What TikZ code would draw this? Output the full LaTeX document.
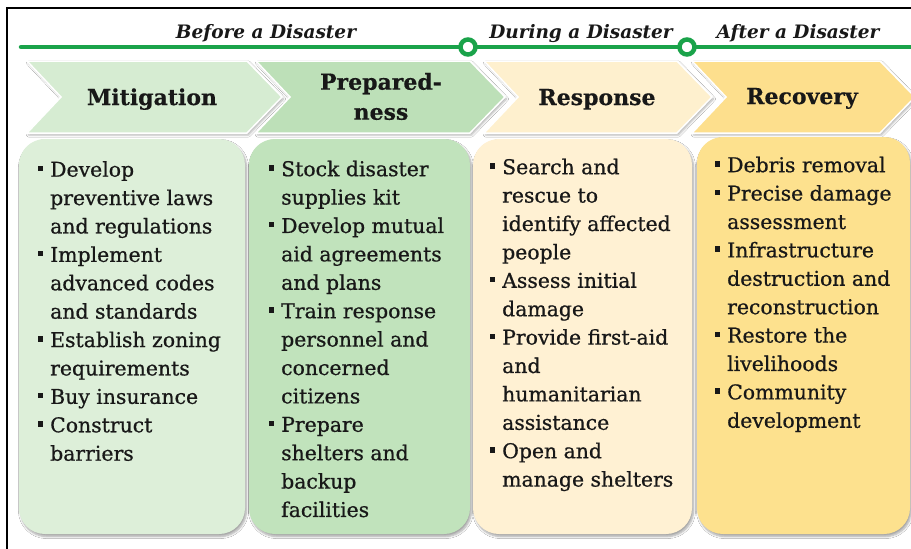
\documentclass[tikz,border=0pt]{standalone}
\usepackage{fontspec}
\setmainfont{DejaVu Serif}
\usetikzlibrary{shadows.blur}

\definecolor{ink}{HTML}{181818}
\definecolor{timeline}{HTML}{1AA34A}
\definecolor{mitChev}{HTML}{D6ECD2}
\definecolor{mitBox}{HTML}{DDEFD9}
\definecolor{prepChev}{HTML}{BDE0B8}
\definecolor{prepBox}{HTML}{C1E3BC}
\definecolor{respChev}{HTML}{FEF0CE}
\definecolor{respBox}{HTML}{FFF1D3}
\definecolor{recChev}{HTML}{FDDF8D}
\definecolor{recBox}{HTML}{FDE18E}

% square bullet hanging to the left of an item
\newcommand{\sqbul}{\llap{\raisebox{5.5pt}{\rule{5.5pt}{5.5pt}}\hspace{7pt}}}

% chevron banner: #1 left x, #2 top-right corner x, #3 fill colour
\newcommand{\chevron}[3]{%
  \path[chevshape, fill=#3] (#1,61) -- (#2,61) -- ({#2+35},97) -- (#2,133)
    -- (#1,133) -- ({#1+34},97) -- cycle;}

\tikzset{
  phase/.style={font=\bfseries\itshape\fontsize{18.5}{22}\selectfont,
    anchor=base, inner sep=0pt, text=ink},
  chevlabel/.style={font=\bfseries\fontsize{22}{30}\selectfont\addfontfeature{FakeBold=0.4},
    anchor=base, inner sep=0pt, align=center, text=ink},
  itemlist/.style={font=\fontsize{20.4}{28.4}\selectfont\addfontfeature{FakeBold=0.7},
    anchor=north west, inner sep=0pt, align=left, text=ink},
  card/.style={rounded corners=26pt,
    blur shadow={shadow xshift=1.5pt, shadow yshift=-2.5pt,
      shadow blur steps=6, shadow opacity=35}},
  chevshape/.style={draw=white, line width=1.5pt,
    blur shadow={shadow xshift=1.5pt, shadow yshift=-2pt,
      shadow blur steps=4, shadow opacity=30}},
  milestone/.style={circle, draw=timeline, line width=4.5pt, fill=white,
    minimum size=15pt, inner sep=0pt},
}

\begin{document}
\begin{tikzpicture}[x=1pt, y=-1pt]
  \useasboundingbox (0,0) rectangle (911,549);
  \fill[white] (0,0) rectangle (911,549);

  % frame
  \draw[line width=1.6pt, black] (911,8) -- (7,8) -- (7,549);

  % phase titles
  \node[phase] (before) at (266,38) {Before a Disaster};
  \node[phase] (during) at (581,38) {During a Disaster};
  \node[phase] (after)  at (798,38) {After a Disaster};

  % timeline with milestones
  \coordinate (tlstart) at (21,47);
  \coordinate (tlend) at (911,47);
  \draw[timeline, line width=4.5pt, line cap=round] (tlstart) -- (tlend);
  \node[milestone] (m1) at (468,47) {};
  \node[milestone] (m2) at (687,47) {};

  % chevron banners
  \chevron{692}{880}{recChev}
  \chevron{484}{677}{respChev}
  \chevron{256}{470}{prepChev}
  \chevron{27}{247}{mitChev}

  \node[chevlabel] (mitT)  at (152,105) {Mitigation};
  \node[chevlabel] (prepT) at (381,96.5) [anchor=center] {Prepared-\\ness};
  \node[chevlabel] (respT) at (597,105) {Response};
  \node[chevlabel] (recT)  at (802,104) {Recovery};

  % cards
  \fill[card, mitBox]  (19,139) rectangle (245,534);
  \fill[card, prepBox] (249,139) rectangle (470,534);
  \fill[card, respBox] (473,139) rectangle (692,534);
  \fill[card, recBox]  (697,137) rectangle (910,534);

  % card items
  \node[itemlist] (mitL) at (50,156.6) {%
    \sqbul\strut Develop\\
    preventive laws\\
    and regulations\\
    \sqbul Implement\\
    advanced codes\\
    and standards\\
    \sqbul Establish zoning\\
    requirements\\
    \sqbul Buy insurance\\
    \sqbul Construct\\
    barriers};

  \node[itemlist] (prepL) at (281,156.1) {%
    \sqbul\strut Stock disaster\\
    supplies kit\\
    \sqbul Develop mutual\\
    aid agreements\\
    and plans\\
    \sqbul Train response\\
    personnel and\\
    concerned\\
    citizens\\
    \sqbul Prepare\\
    shelters and\\
    backup\\
    facilities};

  \node[itemlist] (respL) at (502,154.1) {%
    \sqbul\strut Search and\\
    rescue to\\
    identify affected\\
    people\\
    \sqbul Assess initial\\
    damage\\
    \sqbul Provide first-aid\\
    and\\
    humanitarian\\
    assistance\\
    \sqbul Open and\\
    manage shelters};

  \node[itemlist] (recL) at (727,152.1) {%
    \sqbul\strut Debris removal\\
    \sqbul Precise damage\\
    assessment\\
    \sqbul Infrastructure\\
    destruction and\\
    reconstruction\\
    \sqbul Restore the\\
    livelihoods\\
    \sqbul Community\\
    development};
\end{tikzpicture}
\end{document}
